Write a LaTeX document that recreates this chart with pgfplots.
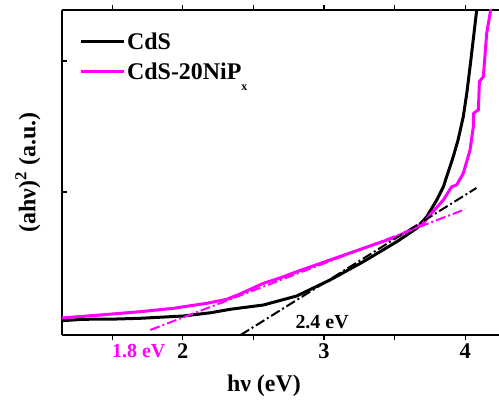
\documentclass[border=0pt]{standalone}
\usepackage{pgfplots}
\pgfplotsset{compat=1.18}
\usepackage{fontspec}
\setmainfont{Liberation Serif}
\definecolor{mag}{RGB}{255,0,255}
\begin{document}
\begin{tikzpicture}
\begin{axis}[name=ax,
 scale only axis, width=437bp, height=325bp,
 xmin=1.145, xmax=4.24, ymin=0, ymax=325,
 axis x line=box, axis y line=left,
 axis line style={-, line width=1.5bp},
 every outer y axis line/.append style={-},
 every outer x axis line/.append style={-},
 xtick={2,3,4}, minor xtick={1.5,2.5,3.5},
 ytick={143,274}, yticklabels={},
 xtick align=outside, ytick align=inside,
 major tick length=5bp, minor tick length=5bp,
 tick style={line width=1.2bp, black},
 /pgf/number format/assume math mode=true,
 ticklabel style={font=\fontsize{22.5}{22.5}\selectfont\bfseries},
 xlabel={hν (eV)},
 xlabel style={at={(axis description cs:0.462,-0.157)}, anchor=center, font=\fontsize{24}{24}\selectfont\bfseries},
 ylabel={(ahν)\textsuperscript{2} (a.u.)},
 ylabel style={at={(axis description cs:-0.078,0.5)}, anchor=center, font=\fontsize{24}{24}\selectfont\bfseries},
 clip mode=individual,
 legend style={at={(axis description cs:0.04,0.935)}, anchor=north west, draw=none, fill=none,
   font=\fontsize{24}{24}\selectfont\bfseries, row sep=9bp, inner sep=0pt,
   nodes={inner sep=1.5bp}},
 legend cell align=left,
 legend image code/.code={\draw[#1] (0bp,0bp) -- (43bp,0bp);},
]
\addplot[black, line width=3bp, line join=round] coordinates {
(1.145,14.3) (1.294,15.7) (1.533,16) (1.698,16.7) (2.004,19) (2.2,22.3)
(2.336,25.7) (2.571,30) (2.807,39) (3.043,55) (3.279,73.3) (3.516,93.3)
(3.657,106.7) (3.728,118.3) (3.799,135) (3.846,148.3) (3.916,178.3)
(3.950,195) (3.987,218.3) (4.013,243) (4.035,268.3) (4.059,297) (4.082,325) (4.100,345)};
\addlegendentry{CdS}
\addplot[mag, line width=3bp, line join=round] coordinates {
(1.145,17) (1.414,20) (1.698,23.3) (1.933,26.7) (2.170,31.7) (2.312,35.7)
(2.406,41) (2.571,51.7) (2.689,57) (2.807,63.3) (3.043,75) (3.279,86.7)
(3.516,98.3) (3.704,111.7) (3.751,120) (3.846,135) (3.905,148.3) (3.940,150)
(3.987,161.7) (4.035,185) (4.058,208.3) (4.060,221.7) (4.094,225) (4.101,253.3)
(4.129,258.3) (4.153,301.7) (4.181,325) (4.19,340)};
\addlegendentry{CdS-20NiP\raisebox{-0.45em}{\fontsize{12}{12}\selectfont x}}
\addplot[black, line width=2bp, dash pattern=on 10bp off 3bp on 2bp off 3bp, forget plot] coordinates {(2.41,0) (4.08,147)};
\addplot[mag, line width=2bp, dash pattern=on 10bp off 3bp on 2bp off 3bp, forget plot] coordinates {(1.77,5) (4.0,125.7)};
\node[font=\fontsize{20}{20}\selectfont\bfseries] at (axis cs:2.987,13) {2.4 eV};
\node[font=\fontsize{20}{20}\selectfont\bfseries, text=mag] at (axis cs:1.689,-16.3) {1.8 eV};
\end{axis}
\pgfresetboundingbox
\useasboundingbox ([xshift=-62bp,yshift=-69bp]ax.south west) rectangle ([yshift=10bp]ax.north east);
\end{tikzpicture}
\end{document}
